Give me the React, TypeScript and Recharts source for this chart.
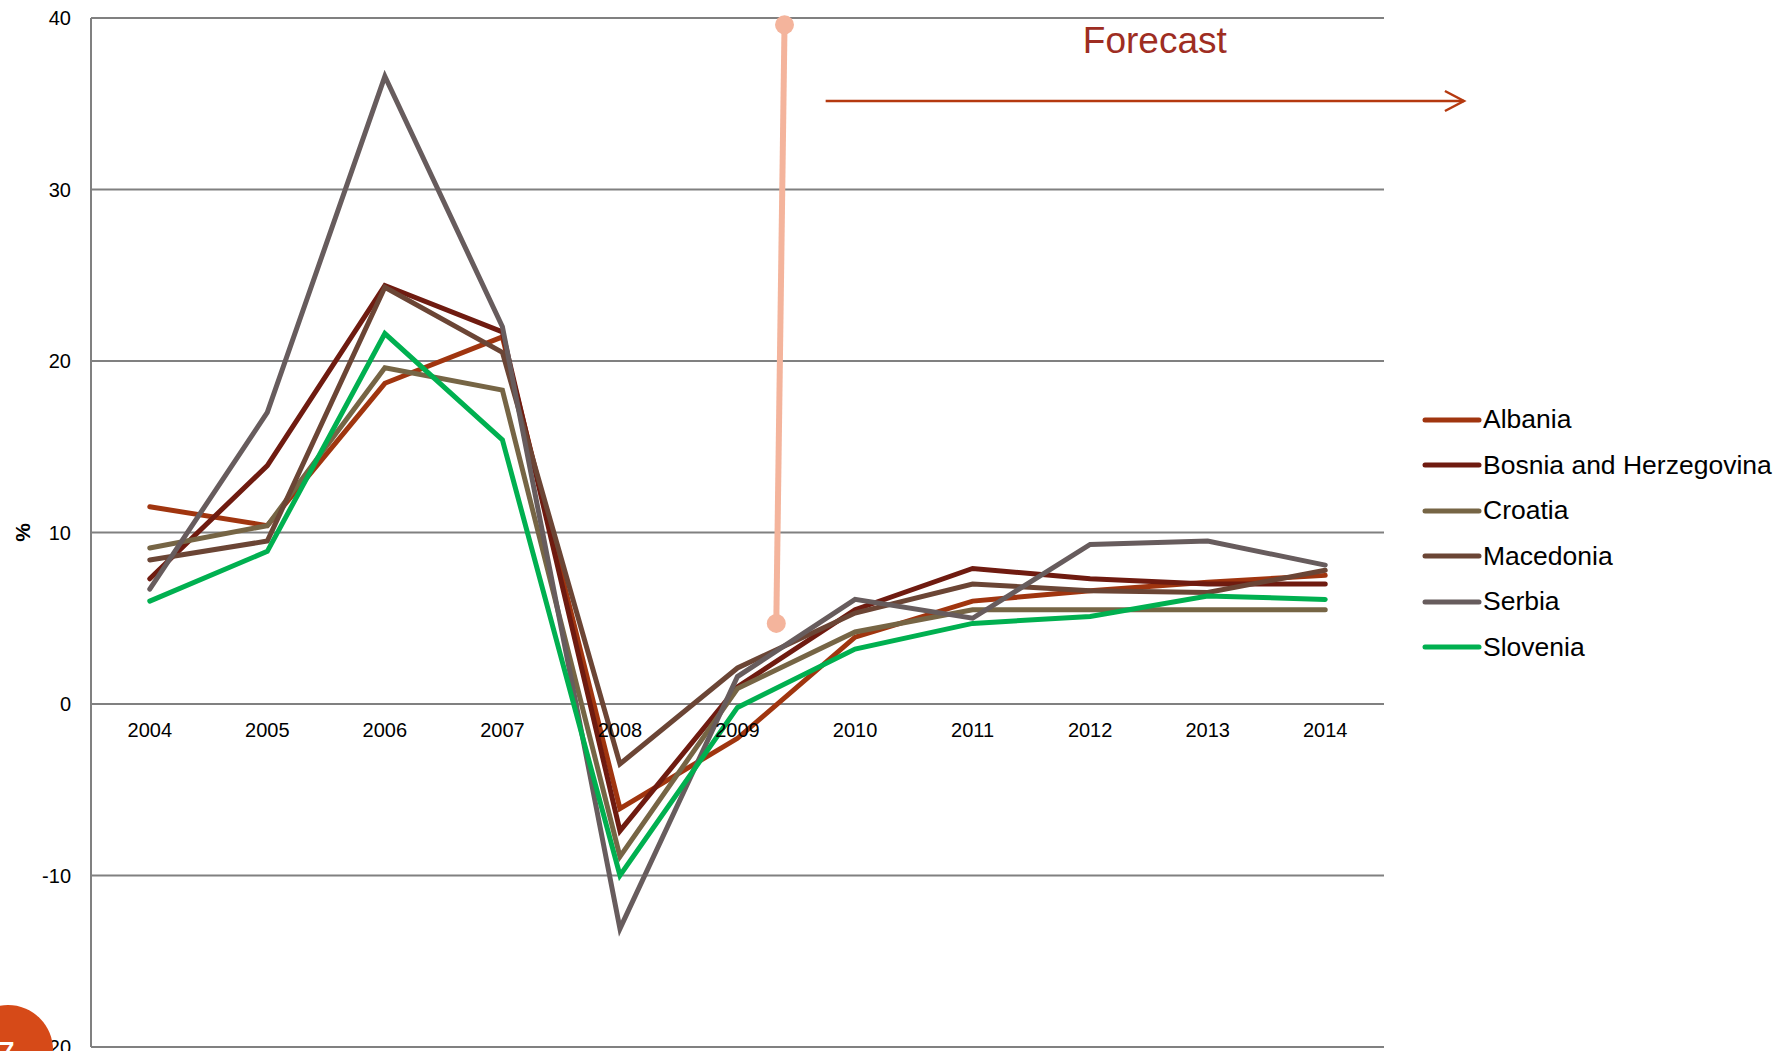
import React from 'react';
import {
  LineChart,
  Line,
  XAxis,
  YAxis,
  CartesianGrid,
  Legend,
  ReferenceLine,
  ReferenceDot,
} from 'recharts';

const years = [2004, 2005, 2006, 2007, 2008, 2009, 2010, 2011, 2012, 2013, 2014];
const albania = [11.5, 10.4, 18.7, 21.4, -6.1, -2.0, 3.9, 6.0, 6.6, 7.1, 7.5];
const bosnia = [7.3, 13.9, 24.4, 21.7, -7.4, 1.0, 5.5, 7.9, 7.3, 7.0, 7.0];
const croatia = [9.1, 10.4, 19.6, 18.3, -8.9, 0.9, 4.2, 5.5, 5.5, 5.5, 5.5];
const macedonia = [8.4, 9.5, 24.3, 20.5, -3.5, 2.1, 5.3, 7.0, 6.6, 6.5, 7.8];
const serbia = [6.7, 17.0, 36.6, 22.0, -13.1, 1.6, 6.1, 5.0, 9.3, 9.5, 8.1];
const slovenia = [6.0, 8.9, 21.6, 15.4, -10.0, -0.2, 3.2, 4.7, 5.1, 6.3, 6.1];
const yTicks = [-20, -10, 0, 10, 20, 30, 40];

// forecast annotation, in data units
const forecastBar = [
  { x: 2009.4, y: 39.6 },
  { x: 2009.33, y: 4.7 },
];
const forecastArrow = [
  { x: 2009.75, y: 35.16 },
  { x: 2015.18, y: 35.16 },
];
const forecastLabel = { x: 2012.55, y: 37.94, text: 'Forecast' };

const series = [
  { key: 'albania', name: 'Albania', color: '#a0350f', values: albania },
  { key: 'bosnia', name: 'Bosnia and Herzegovina', color: '#6f1b10', values: bosnia },
  { key: 'croatia', name: 'Croatia', color: '#766545', values: croatia },
  { key: 'macedonia', name: 'Macedonia', color: '#6b4535', values: macedonia },
  { key: 'serbia', name: 'Serbia', color: '#675c5d', values: serbia },
  { key: 'slovenia', name: 'Slovenia', color: '#00b050', values: slovenia },
];

const data = years.map((year, i) => {
  const row: Record<string, number> = { year };
  series.forEach((s) => {
    row[s.key] = s.values[i];
  });
  return row;
});

const W = 1791;
const H = 1051;
const margin = { top: 18, right: 407, bottom: 3, left: 0 };
const X_AXIS_H = 1;
const Y_MIN = -20;
const Y_MAX = 40;
const plotH = H - margin.top - margin.bottom - X_AXIS_H;
// x labels sit just under the zero line, not at the bottom of the plot
const zeroOffset = (plotH * (0 - Y_MIN)) / (Y_MAX - Y_MIN);

const YearTick = ({ x, y, payload }: any) => (
  <text x={x} y={y - zeroOffset + 33} textAnchor="middle" fontSize={20} fill="#000">
    {payload.value}
  </text>
);

const PercentLabel = ({ viewBox }: any) => {
  const cx = viewBox.x + 22;
  const cy = viewBox.y + viewBox.height / 2;
  return (
    <text
      x={cx}
      y={cy}
      transform={`rotate(-90 ${cx} ${cy})`}
      textAnchor="middle"
      dominantBaseline="central"
      fontSize={21}
      fontWeight="bold"
      fill="#000"
    >
      %
    </text>
  );
};

const ArrowShape = ({ x1, y1, x2, y2 }: any) => (
  <g>
    <line x1={x1} y1={y1} x2={x2} y2={y2} stroke="#b5390f" strokeWidth={2.5} />
    <polyline
      points={`${x2 - 19},${y2 - 10} ${x2},${y2} ${x2 - 19},${y2 + 10}`}
      fill="none"
      stroke="#b5390f"
      strokeWidth={2.5}
    />
  </g>
);

const ForecastText = ({ cx, cy }: any) => (
  <text x={cx} y={cy} textAnchor="middle" fontSize={37} fill="#9e2d22">
    {forecastLabel.text}
  </text>
);

const LegendContent = ({ payload }: any) => (
  <div>
    {(payload || []).map((entry: any) => (
      <div key={entry.value} style={{ display: 'flex', alignItems: 'center', height: 45.5 }}>
        <svg width={63} height={10}>
          <line x1={5} y1={5} x2={59} y2={5} stroke={entry.color} strokeWidth={5} strokeLinecap="round" />
        </svg>
        <span style={{ fontSize: 26.5, color: '#000', whiteSpace: 'nowrap' }}>{entry.value}</span>
      </div>
    ))}
  </div>
);

export default function App() {
  return (
    <div
      style={{
        position: 'absolute',
        left: 0,
        top: 0,
        width: W,
        height: H,
        overflow: 'hidden',
        background: '#fff',
        fontFamily: '"Liberation Sans", Arial, sans-serif',
      }}
    >
      <LineChart width={W} height={H} data={data} margin={margin}>
        <CartesianGrid vertical={false} stroke="#808080" strokeWidth={2} />
        <XAxis
          dataKey="year"
          type="number"
          domain={[2003.5, 2014.5]}
          ticks={years}
          height={X_AXIS_H}
          axisLine={false}
          tickLine={false}
          tickSize={0}
          tickMargin={0}
          tick={<YearTick />}
          interval={0}
        />
        <YAxis
          domain={[Y_MIN, Y_MAX]}
          ticks={yTicks}
          width={91}
          axisLine={{ stroke: '#808080', strokeWidth: 2 }}
          tickLine={false}
          tickSize={0}
          tickMargin={20}
          tick={{ fill: '#000', fontSize: 20 }}
          interval={0}
          label={<PercentLabel />}
        />
        <Legend
          layout="vertical"
          align="center"
          verticalAlign="middle"
          content={<LegendContent />}
          wrapperStyle={{ left: 1420, top: 397, width: 370 }}
        />
        <ReferenceLine
          segment={forecastBar}
          stroke="#f4b49c"
          strokeWidth={6}
          ifOverflow="visible"
        />
        <ReferenceDot x={forecastBar[0].x} y={forecastBar[0].y} r={9.5} fill="#f4b49c" stroke="none" ifOverflow="visible" />
        <ReferenceDot x={forecastBar[1].x} y={forecastBar[1].y} r={9.5} fill="#f4b49c" stroke="none" ifOverflow="visible" />
        <ReferenceLine segment={forecastArrow} ifOverflow="visible" shape={<ArrowShape />} />
        <ReferenceDot
          x={forecastLabel.x}
          y={forecastLabel.y}
          r={1}
          ifOverflow="visible"
          shape={<ForecastText />}
        />
        {series.map((s) => (
          <Line
            key={s.key}
            dataKey={s.key}
            name={s.name}
            stroke={s.color}
            strokeWidth={5}
            strokeLinecap="round"
            dot={false}
            activeDot={false}
            isAnimationActive={false}
          />
        ))}
      </LineChart>
      <div
        style={{
          position: 'absolute',
          left: -37,
          top: 1005,
          width: 90,
          height: 90,
          borderRadius: '50%',
          background: '#d64a18',
        }}
      />
      <div
        style={{
          position: 'absolute',
          left: -7,
          top: 1036,
          fontSize: 40,
          lineHeight: 1,
          color: '#fff',
        }}
      >
        7
      </div>
    </div>
  );
}
